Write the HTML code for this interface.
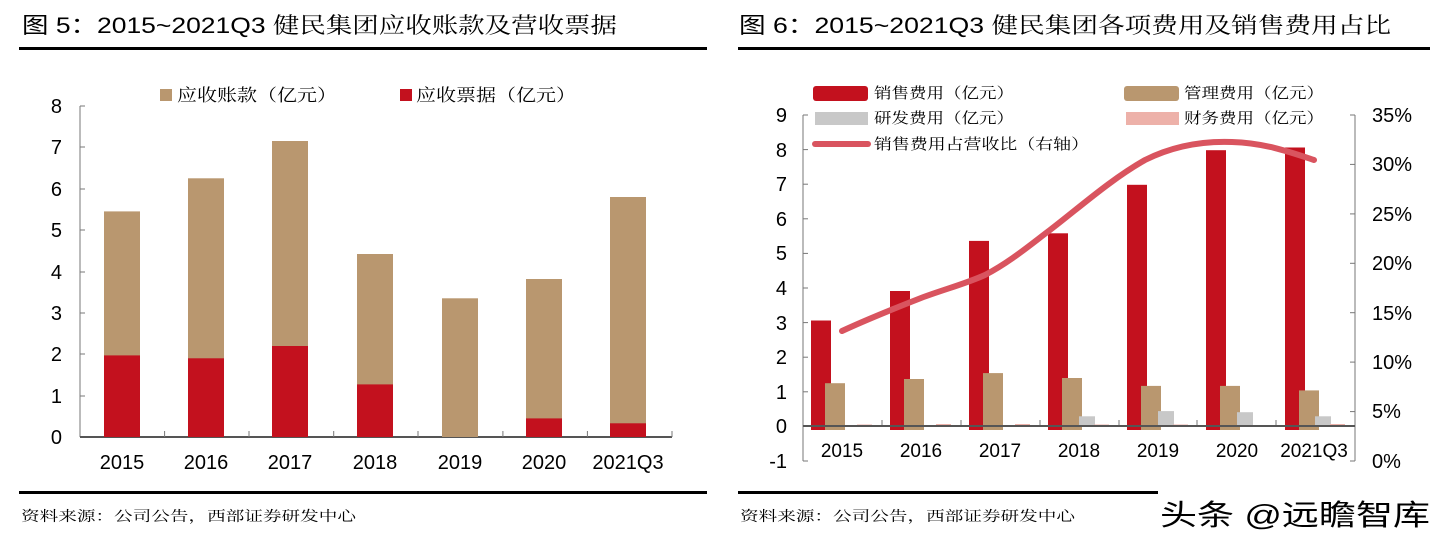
<!DOCTYPE html>
<html><head><meta charset="utf-8"><style>
html,body{margin:0;padding:0;background:#fff;}
svg{display:block;}
text{font-family:"Liberation Sans","Noto Sans CJK SC",sans-serif;fill:#000;}
.cn{font-family:"Noto Serif CJK SC","Noto Sans CJK SC",serif;}
</style></head><body>
<svg width="1448" height="545" viewBox="0 0 1448 545" xmlns="http://www.w3.org/2000/svg">
<!-- LEFT -->
<text x="22" y="33" font-size="22" textLength="595" lengthAdjust="spacingAndGlyphs">图 5：2015~2021Q3 <tspan class="cn">健民集团应收账款及营收票据</tspan></text>
<rect x="19" y="47" width="688" height="3" fill="#000"/>
<rect x="19" y="491" width="688" height="3" fill="#000"/>
<text x="21" y="521" font-size="14" class="cn" textLength="335" lengthAdjust="spacingAndGlyphs">资料来源：公司公告，西部证券研发中心</text>
<rect x="160" y="89" width="12" height="12" fill="#B9976F"/>
<text x="177" y="101" font-size="17" class="cn" textLength="160" lengthAdjust="spacingAndGlyphs">应收账款（亿元）</text>
<rect x="400" y="89" width="12" height="12" fill="#C3111E"/>
<text x="416" y="101" font-size="17" class="cn" textLength="160" lengthAdjust="spacingAndGlyphs">应收票据（亿元）</text>
<g stroke="#777" stroke-width="1">
<line x1="80" y1="106" x2="80" y2="437"/>
<line x1="80" y1="437" x2="672" y2="437" stroke="#555" stroke-width="2"/>
<line x1="80" y1="106" x2="85" y2="106"/><line x1="80" y1="147" x2="85" y2="147"/><line x1="80" y1="189" x2="85" y2="189"/><line x1="80" y1="230" x2="85" y2="230"/><line x1="80" y1="272" x2="85" y2="272"/><line x1="80" y1="313" x2="85" y2="313"/><line x1="80" y1="354" x2="85" y2="354"/><line x1="80" y1="396" x2="85" y2="396"/>
<line x1="164.6" y1="431" x2="164.6" y2="437"/><line x1="249" y1="431" x2="249" y2="437"/><line x1="333.7" y1="431" x2="333.7" y2="437"/><line x1="418" y1="431" x2="418" y2="437"/><line x1="502.9" y1="431" x2="502.9" y2="437"/><line x1="587.4" y1="431" x2="587.4" y2="437"/><line x1="672" y1="431" x2="672" y2="437"/>
</g>
<g font-size="20" text-anchor="end">
<text x="62" y="113">8</text><text x="62" y="154">7</text><text x="62" y="196">6</text><text x="62" y="237">5</text><text x="62" y="279">4</text><text x="62" y="320">3</text><text x="62" y="361">2</text><text x="62" y="403">1</text><text x="62" y="444">0</text>
</g>
<g font-size="20" text-anchor="middle">
<text x="122" y="469">2015</text><text x="206" y="469">2016</text><text x="290" y="469">2017</text><text x="375" y="469">2018</text><text x="460" y="469">2019</text><text x="544" y="469">2020</text><text x="628" y="469">2021Q3</text>
</g>
<g fill="#B9976F">
<rect x="104" y="211.4" width="36" height="225.6"/>
<rect x="188" y="178.3" width="36" height="258.7"/>
<rect x="272" y="141" width="36" height="296"/>
<rect x="357" y="254" width="36" height="183"/>
<rect x="442" y="298.3" width="36" height="138.7"/>
<rect x="526" y="279" width="36" height="158"/>
<rect x="610" y="197" width="36" height="240"/>
</g>
<g fill="#C3111E">
<rect x="104" y="355.4" width="36" height="81.6"/>
<rect x="188" y="358.3" width="36" height="78.7"/>
<rect x="272" y="346" width="36" height="91"/>
<rect x="357" y="384.4" width="36" height="52.6"/>
<rect x="526" y="418.4" width="36" height="18.6"/>
<rect x="610" y="423.3" width="36" height="13.7"/>
</g>

<!-- RIGHT -->
<text x="739" y="33" font-size="22" textLength="652" lengthAdjust="spacingAndGlyphs">图 6：2015~2021Q3 <tspan class="cn">健民集团各项费用及销售费用占比</tspan></text>
<rect x="738" y="47" width="692" height="3" fill="#000"/>
<rect x="738" y="491" width="420" height="3" fill="#000"/>
<text x="740" y="521" font-size="14" class="cn" textLength="335" lengthAdjust="spacingAndGlyphs">资料来源：公司公告，西部证券研发中心</text>
<text x="1160" y="525" font-size="29" fill="#222" textLength="270" lengthAdjust="spacingAndGlyphs">头条 @远瞻智库</text>
<rect x="813" y="86" width="55" height="15" rx="3" fill="#C3111E"/>
<text x="874" y="98" font-size="15" class="cn" textLength="140" lengthAdjust="spacingAndGlyphs">销售费用（亿元）</text>
<rect x="1124" y="86" width="55" height="15" rx="3" fill="#B9976F"/>
<text x="1184" y="98" font-size="15" class="cn" textLength="140" lengthAdjust="spacingAndGlyphs">管理费用（亿元）</text>
<rect x="815" y="112" width="53" height="13" fill="#C8C8C8"/>
<text x="874" y="123" font-size="15" class="cn" textLength="140" lengthAdjust="spacingAndGlyphs">研发费用（亿元）</text>
<rect x="1126" y="112" width="53" height="13" fill="#EDB1A9"/>
<text x="1184" y="123" font-size="15" class="cn" textLength="140" lengthAdjust="spacingAndGlyphs">财务费用（亿元）</text>
<line x1="815" y1="144" x2="868" y2="144" stroke="#D9545F" stroke-width="6" stroke-linecap="round"/>
<text x="874" y="149" font-size="15" class="cn" textLength="215" lengthAdjust="spacingAndGlyphs">销售费用占营收比（右轴）</text>
<g stroke="#777" stroke-width="1">
<line x1="803" y1="115" x2="803" y2="461"/>
<line x1="803" y1="461" x2="808" y2="461"/>
<line x1="803" y1="115" x2="808" y2="115"/><line x1="803" y1="149.6" x2="808" y2="149.6"/><line x1="803" y1="184.2" x2="808" y2="184.2"/><line x1="803" y1="218.8" x2="808" y2="218.8"/><line x1="803" y1="253.4" x2="808" y2="253.4"/><line x1="803" y1="288" x2="808" y2="288"/><line x1="803" y1="322.6" x2="808" y2="322.6"/><line x1="803" y1="357.2" x2="808" y2="357.2"/><line x1="803" y1="391.8" x2="808" y2="391.8"/>
<line x1="1355" y1="115" x2="1355" y2="461"/>
<line x1="1350" y1="115" x2="1355" y2="115"/><line x1="1350" y1="164.4" x2="1355" y2="164.4"/><line x1="1350" y1="213.9" x2="1355" y2="213.9"/><line x1="1350" y1="263.3" x2="1355" y2="263.3"/><line x1="1350" y1="312.7" x2="1355" y2="312.7"/><line x1="1350" y1="362.1" x2="1355" y2="362.1"/><line x1="1350" y1="411.6" x2="1355" y2="411.6"/><line x1="1350" y1="461" x2="1355" y2="461"/>
<line x1="882" y1="420" x2="882" y2="426"/><line x1="961" y1="420" x2="961" y2="426"/><line x1="1040" y1="420" x2="1040" y2="426"/><line x1="1119" y1="420" x2="1119" y2="426"/><line x1="1197" y1="420" x2="1197" y2="426"/><line x1="1276" y1="420" x2="1276" y2="426"/>
</g>
<g font-size="20" text-anchor="end">
<text x="787" y="122">9</text><text x="787" y="157">8</text><text x="787" y="191">7</text><text x="787" y="226">6</text><text x="787" y="260">5</text><text x="787" y="295">4</text><text x="787" y="330">3</text><text x="787" y="364">2</text><text x="787" y="399">1</text><text x="787" y="433">0</text><text x="787" y="468">-1</text>
</g>
<g font-size="20">
<text x="1372" y="122">35%</text><text x="1372" y="171">30%</text><text x="1372" y="221">25%</text><text x="1372" y="270">20%</text><text x="1372" y="320">15%</text><text x="1372" y="369">10%</text><text x="1372" y="418">5%</text><text x="1372" y="468">0%</text>
</g>
<g font-size="19" text-anchor="middle">
<text x="842" y="457">2015</text><text x="921" y="457">2016</text><text x="1000" y="457">2017</text><text x="1079" y="457">2018</text><text x="1158" y="457">2019</text><text x="1237" y="457">2020</text><text x="1314" y="457">2021Q3</text>
</g>
<g fill="#C3111E">
<rect x="811" y="320.5" width="20" height="109.5"/>
<rect x="890" y="291" width="20" height="139"/>
<rect x="969" y="240.9" width="20" height="189.1"/>
<rect x="1048" y="233.3" width="20" height="196.7"/>
<rect x="1127" y="184.8" width="20" height="245.2"/>
<rect x="1206" y="150.2" width="20" height="279.8"/>
<rect x="1285" y="147.5" width="20" height="282.5"/>
</g>
<g fill="#B9976F">
<rect x="825" y="383.2" width="20" height="46.8"/>
<rect x="904" y="379" width="20" height="51"/>
<rect x="983" y="373.1" width="20" height="56.9"/>
<rect x="1062" y="378" width="20" height="52"/>
<rect x="1141" y="385.9" width="20" height="44.1"/>
<rect x="1220" y="385.9" width="20" height="44.1"/>
<rect x="1299" y="390.4" width="20" height="39.6"/>
</g>
<g fill="#C8C8C8">
<rect x="1079" y="416.3" width="16" height="9.7"/>
<rect x="1158" y="411.1" width="16" height="14.9"/>
<rect x="1237" y="412.2" width="16" height="13.8"/>
<rect x="1315" y="416.3" width="16" height="9.7"/>
</g>
<g fill="#EDB1A9">
<rect x="857" y="424.5" width="15" height="1.5"/>
<rect x="936" y="424" width="15" height="2"/>
<rect x="1015" y="424" width="15" height="2"/>
<rect x="1094" y="424.5" width="15" height="1.5"/>
<rect x="1173" y="424.5" width="15" height="1.5"/>
<rect x="1330" y="424" width="15" height="2"/>
</g>
<line x1="803" y1="426" x2="1355" y2="426" stroke="#555" stroke-width="2"/>
<path d="M842,331 C870,318 898,307 921,298 C945,289 965,284 985,275 C1010,262 1030,245 1050,230 C1080,207 1110,180 1145,160 C1175,145 1205,141 1232,142 C1265,143 1290,152 1314,160" fill="none" stroke="#D9545F" stroke-width="6" stroke-linecap="round"/>
</svg>
</body></html>
